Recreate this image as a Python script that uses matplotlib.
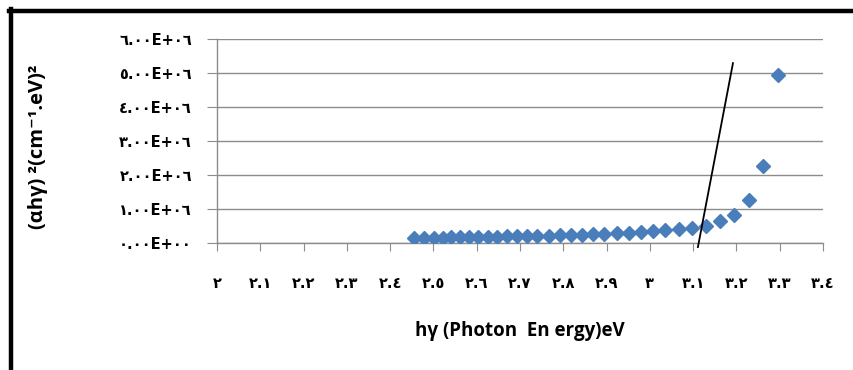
import matplotlib
matplotlib.use('Agg')
import matplotlib.pyplot as plt
from matplotlib.lines import Line2D


# photon energy (eV)
energy = [2.456, 2.479, 2.501, 2.522, 2.541, 2.562, 2.583, 2.604, 2.625, 2.647,
          2.671, 2.694, 2.717, 2.740, 2.766, 2.793, 2.817, 2.843, 2.869, 2.894,
          2.924, 2.952, 2.979, 3.008, 3.036, 3.067, 3.098, 3.130, 3.163, 3.195,
          3.228, 3.261, 3.295]
# (alpha h nu)^2 in units of 1e6
ahv2 = [0.15, 0.155, 0.16, 0.16, 0.165, 0.17, 0.175, 0.18, 0.185, 0.19,
        0.195, 0.20, 0.205, 0.21, 0.215, 0.225, 0.235, 0.245, 0.26, 0.276,
        0.28, 0.296, 0.325, 0.355, 0.374, 0.413, 0.452, 0.491, 0.638, 0.824,
        1.275, 2.255, 4.93]
# hand drawn tangent line (eV, 1e6)
fit_x = [3.111, 3.192]
fit_y = [-0.12, 5.29]

x_ticks = [2.0, 2.1, 2.2, 2.3, 2.4, 2.5, 2.6, 2.7, 2.8, 2.9, 3.0, 3.1, 3.2, 3.3, 3.4]
y_ticks = [0, 1, 2, 3, 4, 5, 6]

AR = str.maketrans('0123456789', '٠١٢٣٤٥٦٧٨٩')


def ar(s):
    return s.translate(AR)


def x_label(v):
    s = f'{v:.1f}'
    if s.endswith('.0'):
        s = s[:-2]
    return ar(s)


def y_label(v):
    s = f'{v * 1e6:.2E}'
    return ar(s)


GRID = '#8c8c8c'
BLUE = '#4a7ebb'

fig = plt.figure(figsize=(8.54, 3.70), dpi=100)
ax = fig.add_axes([217 / 854, 1 - 243 / 370, 606 / 854, 204 / 370])

ax.plot(energy, [v * 1e6 for v in ahv2], linestyle='none', marker='D',
        markersize=7.5, color=BLUE, zorder=3)
ax.plot(fit_x, [v * 1e6 for v in fit_y], color='black', lw=1.3,
        clip_on=False, zorder=4)

ax.set_xlim(2.0, 3.4)
ax.set_ylim(0, 6e6)
ax.set_xticks(x_ticks)
ax.set_xticklabels([x_label(v) for v in x_ticks], fontsize=10.5, fontweight='bold')
ax.set_yticks([v * 1e6 for v in y_ticks])
ax.set_yticklabels([y_label(v) for v in y_ticks], fontsize=10.5, fontweight='bold')

ax.yaxis.grid(True, color=GRID, lw=1)
ax.set_axisbelow(True)
for side in ('top', 'right'):
    ax.spines[side].set_visible(False)
for side in ('left', 'bottom'):
    ax.spines[side].set_color(GRID)
    ax.spines[side].set_linewidth(1)
ax.tick_params(axis='x', length=6, color=GRID, pad=18)
ax.tick_params(axis='y', length=7, color=GRID, pad=11)

lab_font = ['Open Sans', 'DejaVu Sans']
ax.set_xlabel('hγ (Photon  En ergy)eV', fontsize=13.5, fontweight='bold',
              family=lab_font)
ax.xaxis.set_label_coords(0.5, -0.38)
ax.set_ylabel('(αhγ) ²(cm⁻¹.eV)²', fontsize=14.5, fontweight='bold',
              family=lab_font)
ax.yaxis.set_label_coords(-0.279, 0.473)

# black frame around the figure
fig.add_artist(Line2D([11 / 854, 11 / 854], [0, 1 - 9 / 370], color='black',
                      lw=3.2, transform=fig.transFigure))
fig.add_artist(Line2D([9.5 / 854, 1], [1 - 11 / 370, 1 - 11 / 370], color='black',
                      lw=3.2, transform=fig.transFigure))

fig.savefig('out.png', dpi=100)
